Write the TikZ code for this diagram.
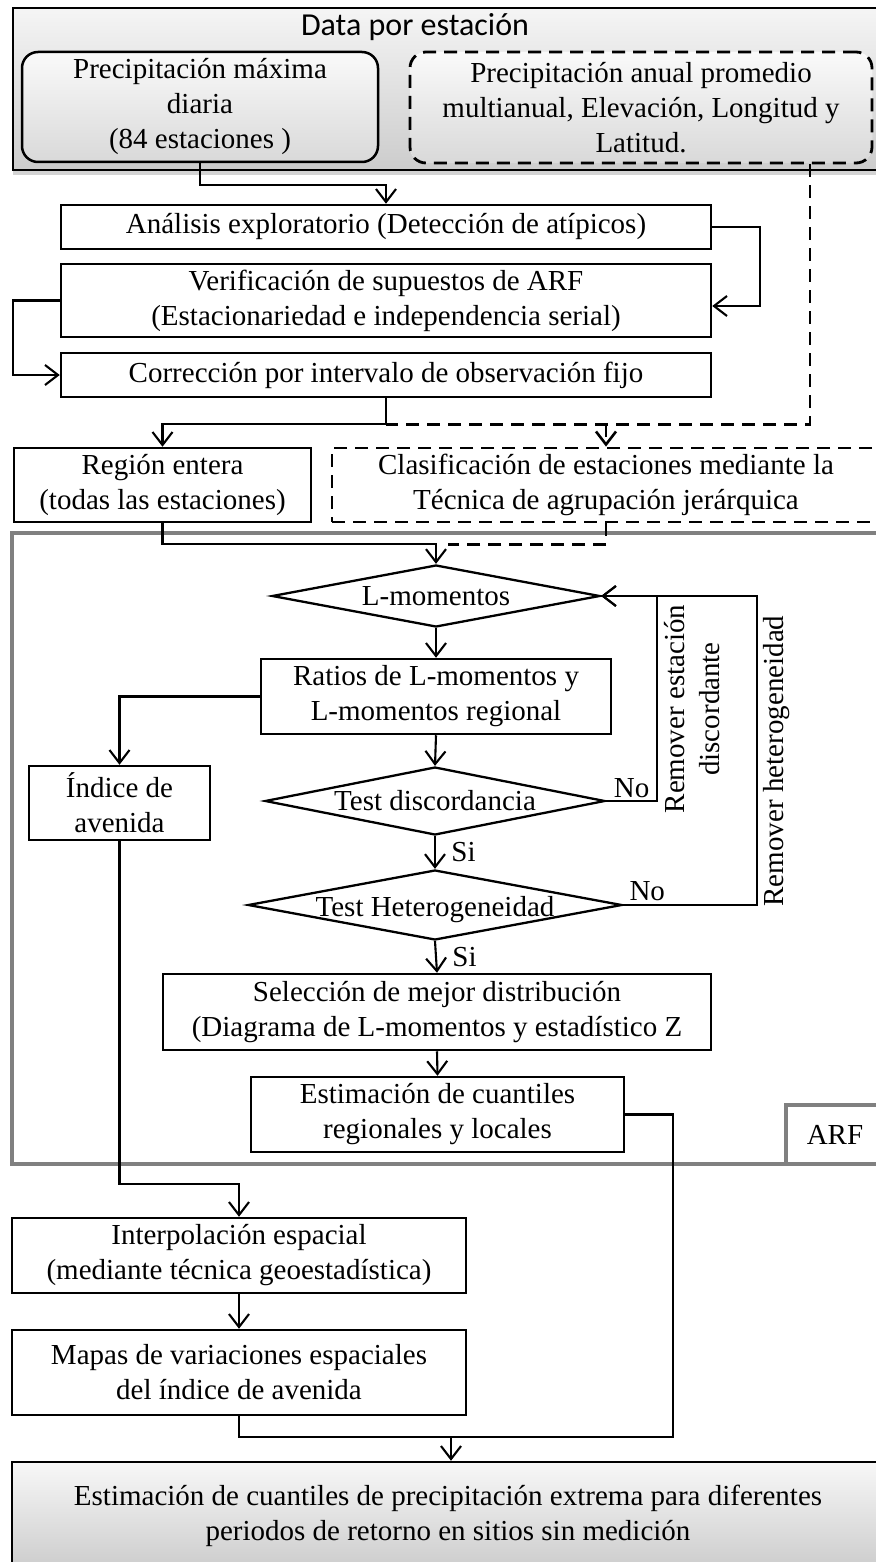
\documentclass[tikz,border=0pt]{standalone}
\usepackage{fontspec}
\setmainfont{Liberation Serif}
\newfontfamily\sanstitle{Carlito}
\usetikzlibrary{arrows.meta,shapes.geometric,shadows}
\newcommand\txtsize{\fontsize{29}{35}\selectfont}

\begin{document}
\begin{tikzpicture}[x=1pt,y=-1pt,>={Straight Barb[length=13pt,width=20pt]},
	every node/.style={font=\txtsize},
	line/.style={line width=2.1pt},
	caja/.style={draw,line width=2.5pt,align=center,inner sep=0pt,fill=white},
	cajad/.style={caja,dash pattern=on 13pt off 8pt,line width=2.8pt},
	rombo/.style={draw,diamond,line width=2.3pt,inner sep=0pt,fill=white},
	dashline/.style={line width=2.6pt,dash pattern=on 13pt off 8pt},
	marco/.style={draw=black!50,line width=4.5pt},
	gris/.style={top color=gray!4,bottom color=gray!30}]

	\useasboundingbox (0,0) rectangle (875,1562);

	\node[caja,top color=gray!8,bottom color=gray!40,minimum width=871pt,minimum height=162pt,
		drop shadow={shadow xshift=0pt,shadow yshift=-5pt,opacity=.35}] (datos) at (448.5,89) {};
	\node[font=\sanstitle\fontsize{32}{38}\selectfont] (titulo) at (415,27) {Data por estación};
	\node[caja,gris,rounded corners=16pt,minimum width=356pt,minimum height=110pt] (pmax) at (200,107) {Precipitación máxima\\diaria\\(84 estaciones )};
	\node[cajad,gris,rounded corners=16pt,minimum width=462pt,minimum height=111pt] (panual) at (641,107.5) {Precipitación anual promedio\\multianual, Elevación, Longitud y\\Latitud.};

	\node[caja,minimum width=650pt,minimum height=44pt] (analisis) at (386,227) {Análisis exploratorio (Detección de atípicos)};
	\node[caja,minimum width=650pt,minimum height=73pt] (verif) at (386,300.5) {Verificación de supuestos de ARF\\(Estacionariedad e independencia serial)};
	\node[caja,minimum width=650pt,minimum height=44pt] (correc) at (386,375) {Corrección por intervalo de observación fijo};
	\node[caja,minimum width=297pt,minimum height=74pt] (region) at (162.5,485) {Región entera\\(todas las estaciones)};
	\node[cajad,minimum width=548pt,minimum height=74pt] (clasif) at (606,485) {Clasificación de estaciones mediante la\\Técnica de agrupación jerárquica};

	\draw[marco] (12,533) rectangle (884,1164);
	\node[marco,fill=white,minimum width=98pt,minimum height=59pt,inner sep=0pt] (arf) at (835,1134.5) {ARF};

	\node[rombo,minimum width=328pt,minimum height=62pt,label=center:L-momentos] (lmom) at (436,596) {};
	\node[caja,minimum width=350pt,minimum height=75pt] (ratios) at (436,696.5) {Ratios de L-momentos y\\L-momentos regional};
	\node[caja,minimum width=181pt,minimum height=74pt] (indice) at (119.5,803) {Índice de\\avenida};
	\node[rombo,minimum width=340pt,minimum height=68pt,label=center:Test discordancia] (disc) at (435,801) {};
	\node[rombo,minimum width=374pt,minimum height=70pt,label={[yshift=-5pt]center:Test Heterogeneidad}] (het) at (435,905) {};
	\node[caja,minimum width=548pt,minimum height=76pt] (selec) at (437,1012) {Selección de mejor distribución\\(Diagrama de L-momentos y estadístico Z};
	\node[caja,minimum width=373pt,minimum height=75pt] (estim) at (437.5,1114.5) {Estimación de cuantiles\\regionales y locales};
	\node[rotate=90,align=center] (remdisc) at (692,709) {Remover estación\\discordante};
	\node[rotate=90] (remhet) at (777,761) {Remover heterogeneidad};

	\node[caja,minimum width=454pt,minimum height=75pt] (interp) at (239,1255.5) {Interpolación espacial\\(mediante técnica geoestadística)};
	\node[caja,minimum width=454pt,minimum height=85pt] (mapas) at (239,1372.5) {Mapas de variaciones espaciales\\del índice de avenida};
	\node[caja,top color=gray!6,bottom color=gray!40,minimum width=872pt,minimum height=108pt] (final) at (448,1516) {Estimación de cuantiles de precipitación extrema para diferentes\\periodos de retorno en sitios sin medición};

	\coordinate (jc) at ([yshift=-26pt]correc.south);
	\coordinate (jr) at ([yshift=-21pt]region.south);
	\coordinate (jf) at (451,1437);

	\draw[line,->] (pmax.south) -- ++(0,22) -| (analisis.north);
	\draw[line,->] (analisis.east) -- ++(48,0) |- ([yshift=-5.5pt]verif.east);
	\draw[line,->] (verif.west) -- ++(-47,0) |- (correc.west);
	\draw[line,->] (correc.south) -- (jc) -| (region.north);
	\draw[dashline] ([xshift=169pt]panual.south) |- (jc);
	\draw[dashline,->] (clasif.north |- jc) -- (clasif.north);
	\draw[line,->] (region.south) -- (jr) -| (lmom.north);
	\draw[dashline] (clasif.south) -- ++(0,21) -- ++(-158,0);
	\draw[line,->] (lmom.south) -- (ratios.north);
	\draw[line,->] (ratios.west) -| (indice.north);
	\draw[line,->] (ratios.south) -- (disc.north);
	\draw[line,->] (disc.south) -- node[right=12pt]{Si} (het.north);
	\draw[line,->] (disc.east) -- node[above,inner sep=2pt]{No} ++(51,0) |- (lmom.east);
	\draw[line,->] (het.east) -- node[pos=.18,above,inner sep=3pt]{No} ++(134,0) |- (lmom.east);
	\draw[line,->] (het.south) -- node[right=12pt]{Si} (selec.north);
	\draw[line,->] (selec.south) -- (estim.north);
	\draw[line,->] (indice.south) -- ++(0,343) -| (interp.north);
	\draw[line,->] (interp.south) -- (mapas.north);
	\draw[line] (mapas.south) |- (jf);
	\draw[line,->] (estim.east) -- ++(48,0) |- (jf) -- (jf |- final.north);
\end{tikzpicture}
\end{document}
